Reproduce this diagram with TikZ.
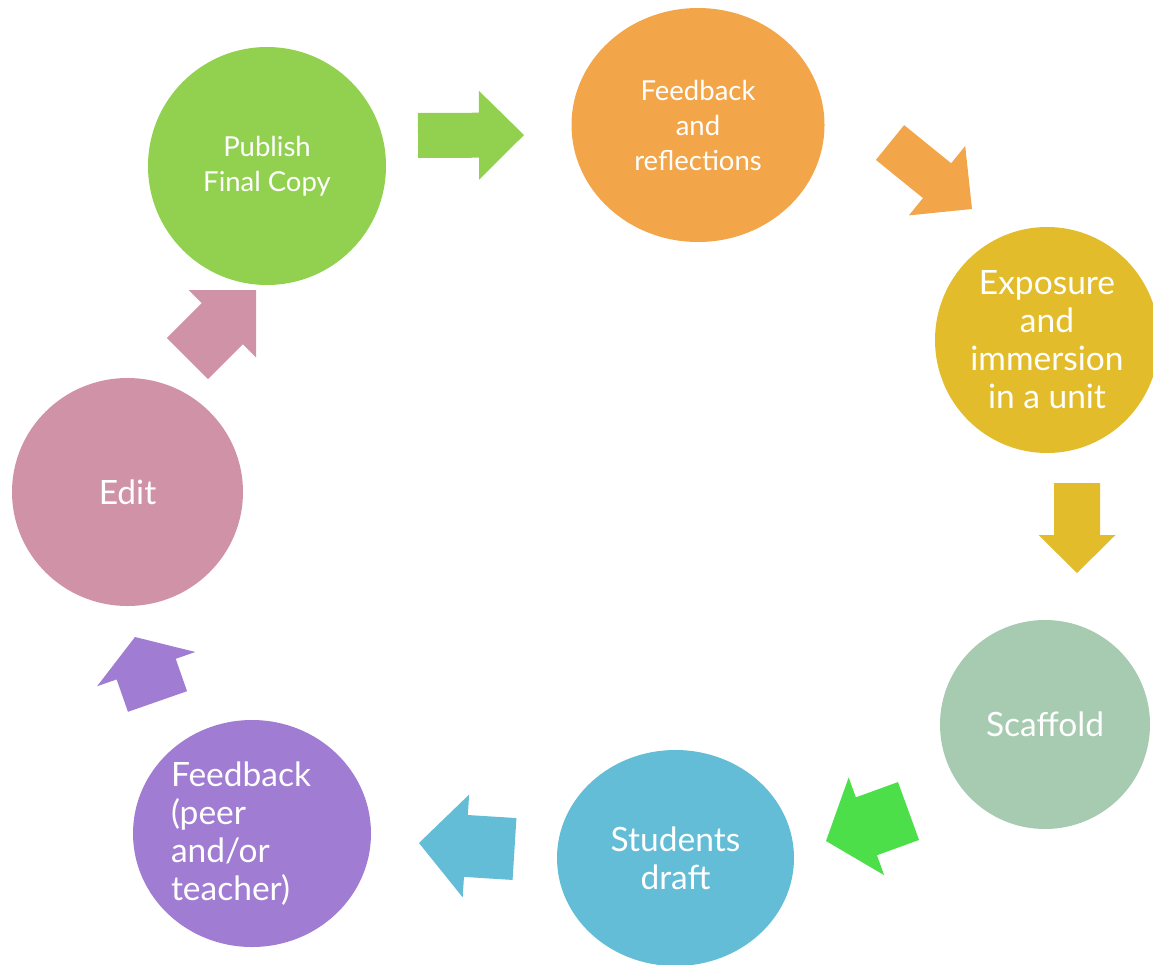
\documentclass[tikz,border=0pt]{standalone}
\usepackage{fontspec}
\setmainfont{Lato}
\usetikzlibrary{shapes.geometric, calc}

\definecolor{cgreen}{HTML}{92D050}
\definecolor{corange}{HTML}{F2A649}
\definecolor{cyellow}{HTML}{E3BC2B}
\definecolor{csage}{HTML}{A6CBB0}
\definecolor{cblue}{HTML}{63BDD6}
\definecolor{cpurple}{HTML}{A07CD2}
\definecolor{cpink}{HTML}{D092A6}
\definecolor{cbright}{HTML}{4CDF4A}

\begin{document}
\begin{tikzpicture}[
                x=1pt, y=-1pt,
                stage/.style={ellipse, inner sep=0pt, text=white, align=center},
                bigtxt/.style={font=\fontsize{33.5}{38}\selectfont},
                smalltxt/.style={font=\fontsize{27.5}{35}\selectfont},
                blockarr/.style n args={3}{to path={
                    ($(\tikztostart)!#1!90:(\tikztotarget)$)
                    -- ($(\tikztotarget)!#3!(\tikztostart)!#1!90:(\tikztotarget)$)
                    -- ($(\tikztotarget)!#3!(\tikztostart)!#2!90:(\tikztotarget)$)
                    -- (\tikztotarget)
                    -- ($(\tikztotarget)!#3!(\tikztostart)!#2!-90:(\tikztotarget)$)
                    -- ($(\tikztotarget)!#3!(\tikztostart)!#1!-90:(\tikztotarget)$)
                    -- ($(\tikztostart)!#1!-90:(\tikztotarget)$)
                    -- cycle}},
            ]
            \useasboundingbox (0,0) rectangle (1153,964);

            % === stages ===
            \node[stage, smalltxt, fill=cgreen, minimum width=238, minimum height=238] (publish) at (267,166) {Publish\\Final Copy};
            \node[stage, smalltxt, fill=corange, minimum width=253, minimum height=234] (reflect) at (698,125) {Feedback\\and\\reflections};
            \node[stage, bigtxt, fill=cyellow, minimum width=224, minimum height=226] (expose) at (1047,340) {Exposure\\and\\immersion\\in a unit};
            \node[stage, bigtxt, fill=csage, minimum width=210, minimum height=209] (scaffold) at (1045,724.5) {Scaffold};
            \node[stage, bigtxt, fill=cblue, minimum width=237, minimum height=216] (draft) at (675.5,858) {Students\\draft};
            \node[stage, bigtxt, fill=cpurple, minimum width=238, minimum height=227, align=left, text width=162] (peer) at (252,833.5) {Feedback\\(peer\\and/or\\teacher)};
            \node[stage, bigtxt, fill=cpink, minimum width=231, minimum height=228] (edit) at (127.5,492) {Edit};

            % === arrow ends ===
            \coordinate (ar1t) at (418,135.5);   \coordinate (ar1h) at (524,135);
            \coordinate (ar2t) at (890,142.5);   \coordinate (ar2h) at (972,209);
            \coordinate (ar3t) at (1077,483);    \coordinate (ar3h) at (1077,573);
            \coordinate (ar4t) at (908.5,811);   \coordinate (ar4h) at (826,841);
            \coordinate (ar5t) at (514.5,849);   \coordinate (ar5h) at (419,843);
            \coordinate (ar6t) at (157.5,701.5); \coordinate (ar6h) at (135,637);
            \coordinate (ar7t) at (187.5,358.5); \coordinate (ar7h) at (256,290);

            % === block arrows ===
            \foreach \n/\col/\w/\h/\l in {1/cgreen/22.5/44.5/45, 2/corange/22.4/44.7/45, 3/cyellow/23/38.5/38,
                    4/cbright/30.8/52/43, 5/cblue/31/51.5/47, 6/cpurple/31.3/52/34, 7/cpink/29/47.7/47.7} {
                \fill[\col] (ar\n t) to[blockarr={\w pt}{\h pt}{\l pt}] (ar\n h);
            }
\end{tikzpicture}
\end{document}
